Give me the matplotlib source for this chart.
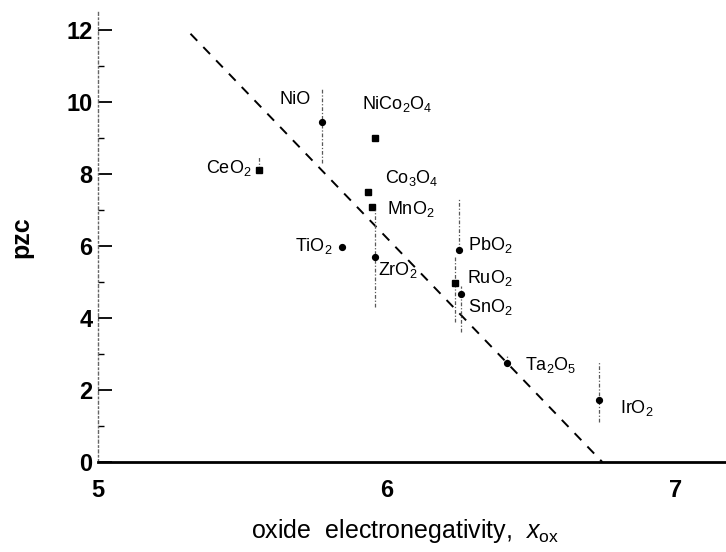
import numpy as np
import matplotlib
matplotlib.use("Agg")
import matplotlib.pyplot as plt
from matplotlib.ticker import MultipleLocator

plt.rcParams['font.family'] = ['Liberation Sans', 'DejaVu Sans']
plt.rcParams['mathtext.fontset'] = 'custom'
plt.rcParams['mathtext.rm'] = 'Liberation Sans'
plt.rcParams['mathtext.it'] = 'Liberation Sans:italic'
plt.rcParams['mathtext.bf'] = 'Liberation Sans:bold'

# oxide data
oxides = ['CeO$_2$', 'NiO', 'NiCo$_2$O$_4$', 'Co$_3$O$_4$', 'MnO$_2$', 'TiO$_2$',
          'ZrO$_2$', 'PbO$_2$', 'RuO$_2$', 'SnO$_2$', 'Ta$_2$O$_5$', 'IrO$_2$']
x_ox = [5.557, 5.774, 5.958, 5.935, 5.947, 5.843, 5.958, 6.250, 6.235, 6.255, 6.416, 6.735]
pzc = [8.11, 9.44, 9.00, 7.49, 7.09, 5.98, 5.70, 5.89, 4.98, 4.67, 2.76, 1.72]
marker = ['s', 'o', 's', 's', 's', 'o', 'o', 'o', 's', 'o', 'o', 'o']

# range bars (low, high); None where there is no bar
bar_lo = [8.11, 8.30, None, None, None, None, 4.30, 5.89, 3.90, 3.60, 2.76, 1.10]
bar_hi = [8.50, 10.40, None, None, None, None, 7.00, 7.30, 5.70, 4.90, 2.95, 2.80]

# label positions (text anchors in data units) and alignment
lab_x = [5.533, 5.682, 5.913, 5.993, 6.000, 5.813, 5.969, 6.280, 6.277, 6.280, 6.478, 6.806]
lab_y = [8.17, 10.06, 9.94, 7.90, 7.03, 6.00, 5.33, 6.03, 5.11, 4.31, 2.69, 1.50]
lab_ha = ['right', 'center', 'left', 'left', 'left', 'right', 'left', 'left', 'left',
          'left', 'left', 'left']

# dashed correlation line
fit_x = [5.32, 6.745]
fit_y = [11.9, 0.0]

fig = plt.figure(figsize=(7.26, 5.52), dpi=100)
ax = fig.add_axes([0.135, 0.163, 0.865, 0.815])

ax.plot(fit_x, fit_y, color='black', lw=1.4, linestyle=(0, (5, 4.5)))

for i in range(len(oxides)):
    if bar_lo[i] is not None:
        ax.plot([x_ox[i], x_ox[i]], [bar_lo[i], bar_hi[i]], color='0.35', lw=0.9,
                linestyle=(0, (3, 1.5, 1, 1.5)))
    ax.plot(x_ox[i], pzc[i], marker=marker[i], color='black', markersize=4.2,
            linestyle='none')
    ax.text(lab_x[i], lab_y[i], oxides[i], ha=lab_ha[i], va='center', fontsize=13)

ax.set_xlim(5, 7.173)
ax.set_ylim(0, 12.5)
ax.set_xticks([5, 6, 7])
ax.yaxis.set_major_locator(MultipleLocator(2))
ax.yaxis.set_minor_locator(MultipleLocator(1))

for s in ['top', 'right']:
    ax.spines[s].set_visible(False)
ax.spines['bottom'].set_linewidth(2.0)
ax.spines['left'].set_linewidth(1.0)
ax.spines['left'].set_color('0.4')
ax.spines['left'].set_linestyle((0, (2, 2, 1, 2)))

ax.tick_params(axis='x', length=0, pad=12, labelsize=17)
ax.tick_params(axis='y', which='major', direction='in', length=10, width=1.3,
               pad=4, labelsize=17)
ax.tick_params(axis='y', which='minor', direction='in', length=4, width=1.0)
for lab in ax.get_xticklabels() + ax.get_yticklabels():
    lab.set_fontweight('bold')

ax.set_xlabel('oxide  electronegativity,  $x_{\\mathrm{ox}}$', fontsize=18)
ax.xaxis.set_label_coords(0.489, -0.122)
ax.set_ylabel('pzc', fontsize=18, fontweight='bold')
ax.yaxis.set_label_coords(-0.1035, 0.5)

fig.savefig('out.png', dpi=100)
